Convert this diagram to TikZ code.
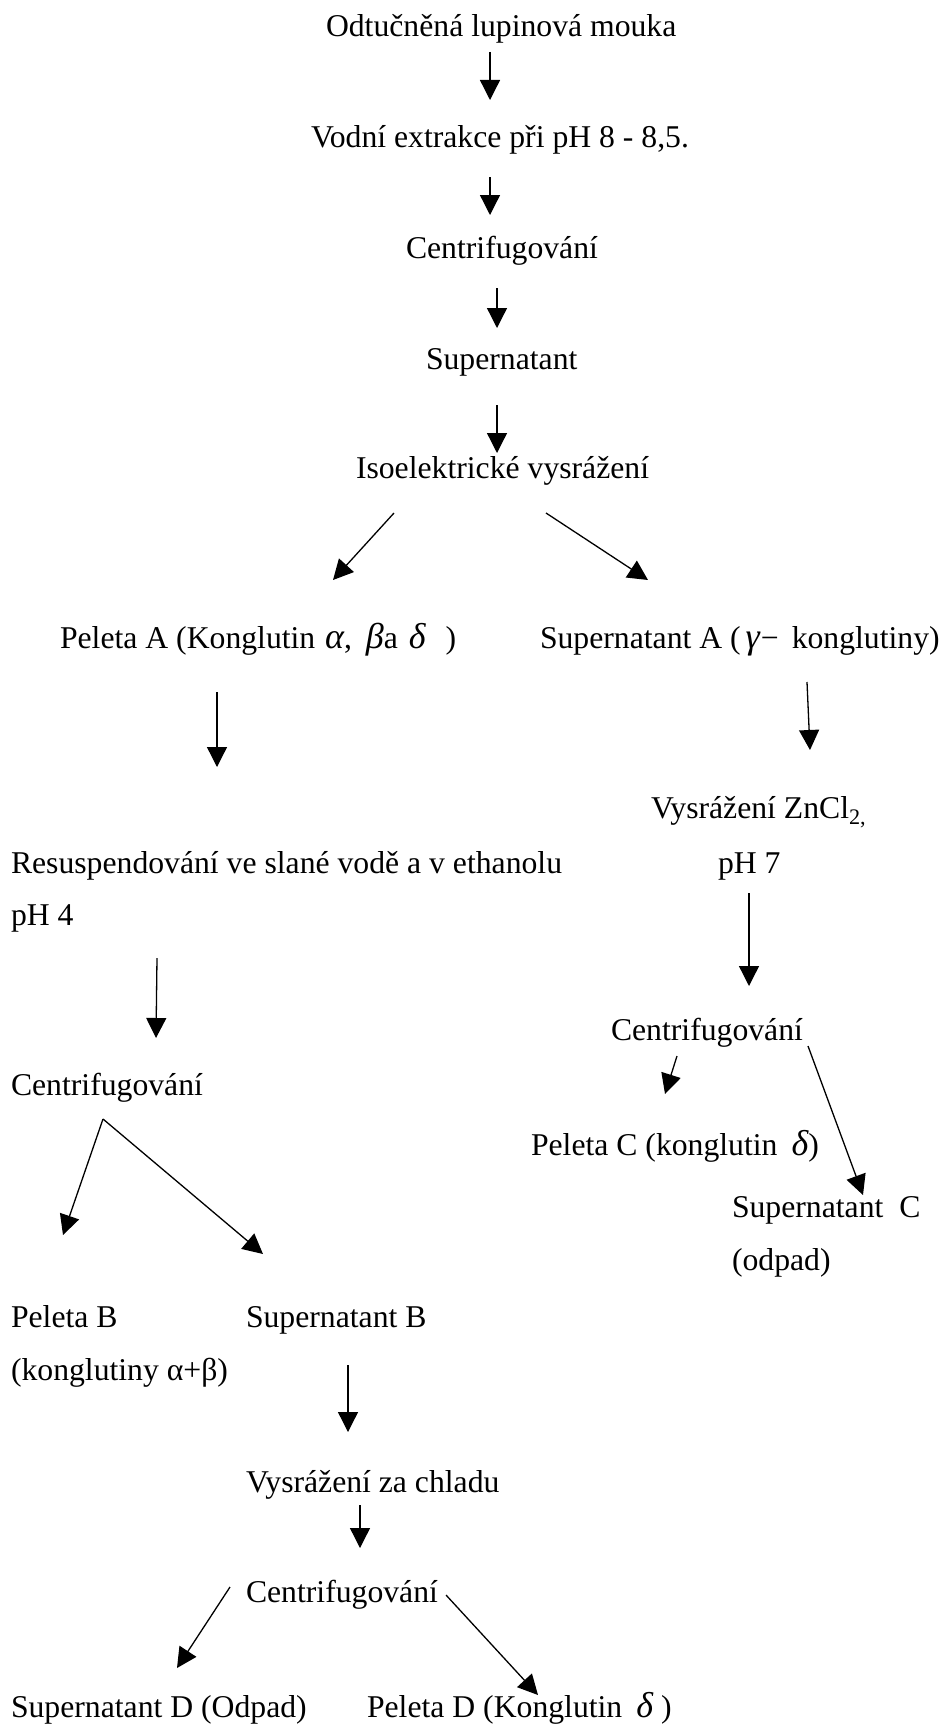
\documentclass[tikz,border=0pt]{standalone}
\usepackage{fontspec}
\setmainfont{Liberation Serif}
\usetikzlibrary{arrows.meta}
\newcommand{\gk}[1]{{\fontsize{36}{38}\selectfont\itshape #1}}
\tikzset{
  lbl/.style={anchor=base west, inner sep=0pt, outer sep=0pt, font=\fontsize{31.7}{38}\selectfont},
  arr/.style={line width=1.3pt, -{Triangle[length=20pt,width=20pt]}}
}
\begin{document}
\begin{tikzpicture}[x=1pt,y=-1pt]
\useasboundingbox[fill=white] (0,0) rectangle (948,1726);
% texts
\node[lbl] (n1) at (326,37) {Odtučněná lupinová mouka};
\node[lbl] (n2) at (311,147) {Vodní extrakce při pH 8 - 8,5.};
\node[lbl] (n3) at (406,258) {Centrifugování};
\node[lbl] (n4) at (426,369) {Supernatant};
\node[lbl] (n5) at (356,478) {Isoelektrické vysrážení};
\node[lbl] (n6) at (60,648) {Peleta A (Konglutin\hspace{2pt} \gk{α}, \hspace{6pt}\gk{β}a\hspace{3pt} \gk{δ}\hspace{20pt})};
\node[lbl] (n7) at (540,648) {Supernatant A (\hspace{5pt}\gk{γ}\hspace{1pt}−\hspace{13pt}konglutiny)};
\node[lbl] (n8) at (651,818) {Vysrážení ZnCl\textsubscript{2,}};
\node[lbl] (n9) at (718,873) {pH 7};
\node[lbl] (n10) at (11,873) {Resuspendování ve slané vodě a v ethanolu};
\node[lbl] (n11) at (11,925) {pH 4};
\node[lbl] (n12) at (611,1040) {Centrifugování};
\node[lbl] (n13) at (11,1095) {Centrifugování};
\node[lbl] (n14) at (531,1155) {Peleta C (konglutin\hspace{14pt}\gk{δ})};
\node[lbl] (n15) at (732,1217) {Supernatant \ C};
\node[lbl] (n16) at (732,1270) {(odpad)};
\node[lbl] (n17) at (11,1327) {Peleta B};
\node[lbl] (n18) at (246,1327) {Supernatant B};
\node[lbl] (n19) at (11,1380) {(konglutiny α+β)};
\node[lbl] (n20) at (246,1492) {Vysrážení za chladu};
\node[lbl] (n21) at (246,1602) {Centrifugování};
\node[lbl] (n22) at (11,1717) {Supernatant D (Odpad)};
\node[lbl] (n23) at (367,1717) {Peleta D (Konglutin\hspace{14pt}\gk{δ}\hspace{8pt})};
% arrow end points
\coordinate (a1s) at (490,52);   \coordinate (a1e) at (490,100);
\coordinate (a2s) at (490,177);  \coordinate (a2e) at (490,215);
\coordinate (a3s) at (497,288);  \coordinate (a3e) at (497,328);
\coordinate (a4s) at (497,405);  \coordinate (a4e) at (497,453);
\coordinate (a5s) at (394,513);  \coordinate (a5e) at (333,580);
\coordinate (a6s) at (546,513);  \coordinate (a6e) at (648,580);
\coordinate (a7s) at (217,692);  \coordinate (a7e) at (217,767);
\coordinate (a8s) at (807,682);  \coordinate (a8e) at (810,750);
\coordinate (a9s) at (749,893);  \coordinate (a9e) at (749,986);
\coordinate (a10s) at (157,958); \coordinate (a10e) at (156,1038);
\coordinate (a11s) at (677,1056);\coordinate (a11e) at (665,1094);
\coordinate (a12s) at (808,1046);\coordinate (a12e) at (863,1195);
\coordinate (a13s) at (103,1119);\coordinate (a13l) at (63,1235); \coordinate (a13r) at (263,1254);
\coordinate (a14s) at (348,1365);\coordinate (a14e) at (348,1432);
\coordinate (a15s) at (360,1505);\coordinate (a15e) at (360,1548);
\coordinate (a16s) at (230,1587);\coordinate (a16e) at (177,1668);
\coordinate (a17s) at (446,1595);\coordinate (a17e) at (538,1695);
% arrows
\draw[arr] (a1s) -- (a1e);
\draw[arr] (a2s) -- (a2e);
\draw[arr] (a3s) -- (a3e);
\draw[arr] (a4s) -- (a4e);
\draw[arr] (a5s) -- (a5e);
\draw[arr] (a6s) -- (a6e);
\draw[arr] (a7s) -- (a7e);
\draw[arr] (a8s) -- (a8e);
\draw[arr] (a9s) -- (a9e);
\draw[arr] (a10s) -- (a10e);
\draw[arr] (a11s) -- (a11e);
\draw[arr] (a12s) -- (a12e);
\draw[arr] (a13s) -- (a13l);
\draw[arr] (a13s) -- (a13r);
\draw[arr] (a14s) -- (a14e);
\draw[arr] (a15s) -- (a15e);
\draw[arr] (a16s) -- (a16e);
\draw[arr] (a17s) -- (a17e);
\end{tikzpicture}
\end{document}
